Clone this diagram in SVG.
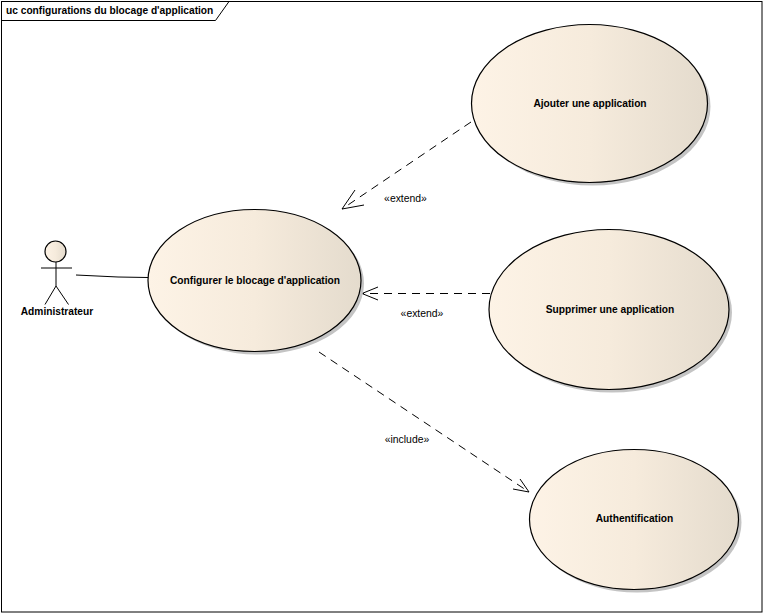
<svg xmlns="http://www.w3.org/2000/svg" width="764" height="614" viewBox="0 0 764 614">
<style>
.shadow{fill:#c4c4c4;stroke:none}
.uc{fill:url(#g);stroke:#000;stroke-width:1.2}
.t{font-family:"Liberation Sans",Arial,sans-serif;font-size:10.2px;font-weight:bold;fill:#000;text-anchor:middle}
.s{font-family:"Liberation Sans",Arial,sans-serif;font-size:10.4px;fill:#000;text-anchor:middle}
.l{fill:none;stroke:#000;stroke-width:1}
.d{stroke-dasharray:8 6}
</style>
<defs>
<linearGradient id="g" x1="0" y1="0" x2="1" y2="0">
<stop offset="0" stop-color="#fdf3e6"/><stop offset="0.5" stop-color="#f6ebdc"/><stop offset="1" stop-color="#e4dbcd"/>
</linearGradient>
</defs>
<rect width="764" height="614" fill="#fff"/>
<g id="frame">
<rect x="1.5" y="1.5" width="760.5" height="610.5" fill="none" stroke="#000"/>
<path d="M1.5 20.5H215.5L229 1.5" class="l"/>
<text x="6" y="14" class="t" style="text-anchor:start">uc configurations du blocage d'application</text>
</g>
<g id="connectors">
<path class="l" d="M76 275L118 277L148 277.500"/>
<path class="l d" d="M471 122L342 209"/>
<path class="l" d="M355 190L342 209L364 205"/>
<path class="l d" d="M490 293.500H362"/>
<path class="l" d="M378 287L362 293.500L378 300"/>
<path class="l d" d="M319 352L529 492"/>
<path class="l" d="M520 479L529 492L513 489"/>
<text class="s" x="405.500" y="202">«extend»</text>
<text class="s" x="422" y="317">«extend»</text>
<text class="s" x="407" y="443">«include»</text>
</g>
<g id="actor">
<circle cx="55.500" cy="251.500" r="10.500" class="uc"/>
<path class="l" d="M41 268H72M56 262V286M56 286L45 304.500M56 286L68.500 304.500"/>
<text class="t" x="57" y="315">Administrateur</text>
</g>
<g id="uc-configurer">
<ellipse class="shadow" cx="257.500" cy="283.500" rx="106.500" ry="71"/>
<ellipse class="uc" cx="254.500" cy="280.500" rx="106.500" ry="71"/>
<text class="t" x="255" y="284">Configurer le blocage d'application</text>
</g>
<g id="uc-ajouter">
<ellipse class="shadow" cx="592.500" cy="106.500" rx="118" ry="79"/>
<ellipse class="uc" cx="589.500" cy="103.500" rx="118" ry="79"/>
<text class="t" x="590" y="107">Ajouter une application</text>
</g>
<g id="uc-supprimer">
<ellipse class="shadow" cx="612" cy="312.500" rx="120" ry="80"/>
<ellipse class="uc" cx="609" cy="309.500" rx="120" ry="80"/>
<text class="t" x="610" y="313">Supprimer une application</text>
</g>
<g id="uc-auth">
<ellipse class="shadow" cx="637" cy="522.500" rx="104.500" ry="70"/>
<ellipse class="uc" cx="634" cy="519.500" rx="104.500" ry="70"/>
<text class="t" x="634.500" y="522">Authentification</text>
</g>
</svg>
